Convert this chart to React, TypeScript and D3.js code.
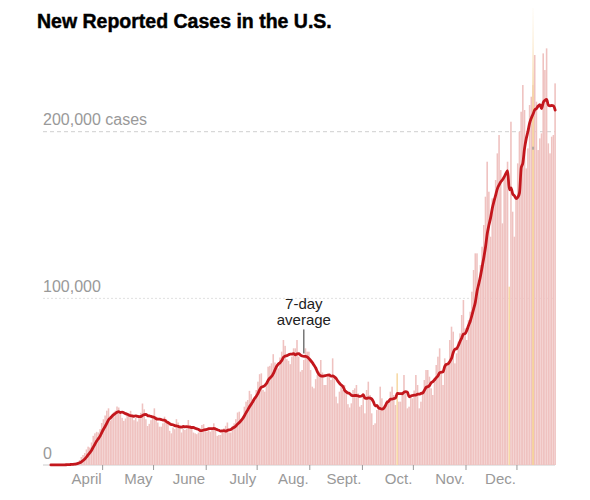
import React from "react";
import * as d3 from "d3";

const title = "New Reported Cases in the U.S.";
const startDate = "2020-03-01";

const marchCases = [20, 30, 25, 40, 70, 90, 110, 150, 200, 290, 430, 480, 680, 700, 1000, 1400, 1900, 3000, 4800, 6000, 7200, 9300, 11000, 10500, 13500, 17500, 19000, 19900, 19500, 21500, 25200];
const aprilCases = [27400, 29700, 32600, 34000, 26600, 29400, 31600, 32600, 35100, 34500, 30800, 28300, 26500, 27900, 30200, 31100, 32500, 29700, 26900, 28200, 26100, 29000, 31300, 36900, 33400, 27500, 23400, 24700, 26900, 29300];
const mayCases = [34000, 29000, 25500, 23000, 23000, 25000, 29000, 27500, 25500, 20500, 19000, 22500, 21500, 27500, 25500, 23500, 19500, 22000, 21000, 22000, 27000, 24000, 22000, 19500, 19000, 18500, 19500, 22000, 24000, 24500, 21000];
const juneCases = [20000, 21500, 20000, 21500, 25000, 22500, 17500, 18000, 18000, 21000, 22000, 23500, 25500, 19500, 19500, 23500, 25000, 27500, 31500, 32000, 27500, 28500, 35000, 38000, 39000, 44500, 42500, 39500, 40500, 45000];
const julyCases = [50000, 54500, 55000, 45000, 44000, 48500, 59000, 59500, 61000, 66500, 61500, 59000, 58000, 64500, 68000, 75000, 71500, 63500, 62500, 60500, 65000, 70000, 70000, 75000, 65000, 56000, 57000, 63000, 70000, 68000, 68000];
const augustCases = [57000, 47000, 46000, 51500, 54000, 56000, 63000, 55500, 48000, 48000, 53000, 54500, 51000, 64000, 52000, 41000, 37000, 44000, 47000, 45000, 48000, 45000, 36500, 34500, 37000, 45000, 46000, 48000, 43000, 35000, 36000];
const septemberCases = [42000, 31000, 45000, 50000, 42000, 31000, 24000, 25000, 33000, 35000, 47000, 40000, 34000, 35000, 39000, 38000, 44000, 47000, 42000, 36000, 55000, 38000, 38000, 43000, 54000, 44000, 34000, 35000, 42000, 40000];
const octoberCases = [44700, 54000, 48000, 34000, 38000, 44000, 51000, 57000, 57000, 53000, 46000, 42000, 52000, 60000, 65000, 70000, 55000, 48000, 64000, 61000, 62000, 75000, 83000, 80000, 61000, 67000, 74000, 79000, 90000, 99000, 82000];
const novemberCases = [75000, 87000, 92000, 104000, 117000, 127000, 127000, 106000, 120000, 131000, 144000, 161000, 182000, 164000, 137000, 160000, 160000, 171000, 187000, 198000, 177000, 145000, 172000, 175000, 182000, 107000, 206000, 152000, 137000, 160000];
const decemberCases = [181000, 200000, 212000, 228000, 213000, 178000, 190000, 216000, 221000, 228000, 246000, 218000, 189000, 196000, 199000, 247000, 237000, 250000, 193000, 187000, 197000, 198000, 229000];

const monthTicks = ["2020-04-01", "2020-05-01", "2020-06-01", "2020-07-01", "2020-08-01", "2020-09-01", "2020-10-01", "2020-11-01", "2020-12-01"];
const monthLabels = ["April", "May", "June", "July", "Aug.", "Sept.", "Oct.", "Nov.", "Dec."];
const yTicks = [0, 100000, 200000];
const yTickLabels = ["0", "100,000", "200,000 cases"];
const highlightDays = ["2020-09-21", "2020-11-26"];
const markerDay = "2020-12-10";
const annotationDay = "2020-07-28";
const annotationLines = ["7-day", "average"];

const parse = d3.utcParse("%Y-%m-%d");

export default function App() {
  const daily = [
    ...marchCases, ...aprilCases, ...mayCases, ...juneCases, ...julyCases,
    ...augustCases, ...septemberCases, ...octoberCases, ...novemberCases, ...decemberCases,
  ];
  const start = parse(startDate) as Date;
  const data = daily.map((v, i) => {
    const date = d3.utcDay.offset(start, i);
    const win = daily.slice(Math.max(0, i - 6), i + 1);
    return { date, value: v, avg: d3.mean(win) as number };
  });
  const end = d3.utcDay.offset(start, daily.length);

  const x = d3.scaleUtc().domain([start, end]).range([50, 50 + daily.length * 1.698]);
  const y = d3.scaleLinear().domain([0, 200000]).range([465, 131.7]);
  const step = x(d3.utcDay.offset(start, 1)) - x(start);
  const left = 43;
  const right = 555;

  const hl = new Set(highlightDays);
  const fmt = d3.utcFormat("%Y-%m-%d");

  const line = d3
    .line<{ date: Date; avg: number }>()
    .x((d) => x(d.date) + step / 2)
    .y((d) => y(d.avg))
    .curve(d3.curveMonotoneX);

  const markerX = x(parse(markerDay) as Date) + step / 2;
  const topY = y(y.invert(8));
  const annD = data.find((d) => fmt(d.date) === annotationDay)!;
  const annX = x(annD.date) + step / 2;

  const font = "'Liberation Sans', Arial, sans-serif";

  return (
    <svg width={590} height={500} style={{ position: "absolute", left: 0, top: 0, background: "#fff" }} fontFamily={font}>
      <defs>
        <linearGradient id="mk" x1="0" y1="1" x2="0" y2="0">
          <stop offset="0" stopColor="#f5d29a" stopOpacity={1} />
          <stop offset="0.8" stopColor="#f6d6a2" stopOpacity={1} />
          <stop offset="1" stopColor="#fbe9cc" stopOpacity={0.1} />
        </linearGradient>
      </defs>
      <text x={37} y={28} fontSize={19.5} fontWeight={700} fill="#000" stroke="#000" strokeWidth={0.45}>{title}</text>

      {/* gridlines */}
      {yTicks.map((t, i) => (
        <line key={"g" + t} x1={left} x2={right} y1={y(t)} y2={y(t)}
          stroke={t === 0 ? "#ccc" : i === 2 ? "#cfcfcf" : "#e0e0e0"}
          strokeWidth={1}
          strokeDasharray={t === 0 ? undefined : i === 2 ? "4,3" : "2,2"} />
      ))}

      {/* bars */}
      {data.map((d) => (
        <rect key={"b" + fmt(d.date)} x={x(d.date)} width={step - 0.12}
          y={y(d.value)} height={y(0) - y(d.value)}
          fill={hl.has(fmt(d.date)) ? "#f7d9a6" : "#efc2c0"} />
      ))}

      {/* marker line */}
      <rect x={markerX - 0.9} width={1.8} y={topY} height={y(0) - topY} fill="url(#mk)" />
      <rect x={markerX - 1} width={2} y={y(170000) - 35} height={3} fill="#999" opacity={0.7} />

      {/* y labels */}
      {yTicks.map((t, i) => (
        <text key={"yl" + t} x={left} y={y(t) - 6.5} fontSize={16} fill="#999">{yTickLabels[i]}</text>
      ))}

      {/* 7-day average */}
      <path d={line(data) as string} fill="none" stroke="#c3171d" strokeWidth={2.8} strokeLinejoin="round" strokeLinecap="round" />

      {/* annotation */}
      <line x1={annX} x2={annX} y1={y(annD.avg) - 3} y2={y(annD.avg) - 27} stroke="#333" strokeWidth={1} />
      {annotationLines.map((t, i) => (
        <text key={t} x={annX} y={y(annD.avg) - 47 + i * 16} textAnchor="middle" fontSize={15} fill="#222">{t}</text>
      ))}

      {/* x axis ticks */}
      {monthTicks.map((m, i) => {
        const xx = x(parse(m) as Date);
        return (
          <g key={m}>
            <line x1={xx} x2={xx} y1={y(0)} y2={y(0) + 5} stroke="#999" strokeWidth={1} />
            <text x={xx - 1} y={484} textAnchor="end" fontSize={15} fill="#999">{monthLabels[i]}</text>
          </g>
        );
      })}
    </svg>
  );
}
